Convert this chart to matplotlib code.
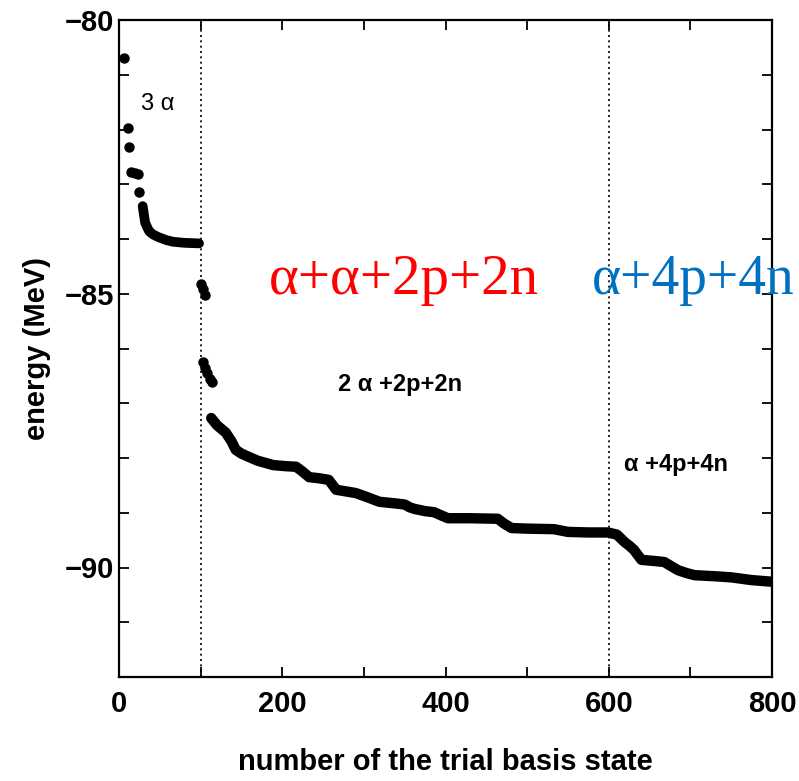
import matplotlib
matplotlib.use("Agg")
import matplotlib.pyplot as plt
from matplotlib.ticker import MultipleLocator

# ---- data ----
# isolated dots (3 alpha region and the first 2alpha+2p+2n states)
dots_x = [6, 11, 12, 15, 19, 23, 25, 101, 103, 105, 103, 105, 108, 111, 114]
dots_E = [-80.69, -81.97, -82.32, -82.78, -82.80, -82.82, -83.14,
          -84.82, -84.92, -85.02, -86.25, -86.35, -86.45, -86.55, -86.62]

# dense band of the 3 alpha states
band1_x = [29, 30, 31, 32, 35, 37, 42, 49, 58, 66, 80, 98]
band1_E = [-83.40, -83.50, -83.60, -83.70, -83.80, -83.86, -83.92, -83.97,
           -84.02, -84.05, -84.07, -84.08]

# dense band of the 2alpha+2p+2n and alpha+4p+4n states
band2_x = [113, 120, 131, 138, 143, 150, 159, 170, 189, 205, 217, 225, 233,
           245, 257, 262, 266, 278, 290, 305, 319, 339, 350, 356, 362, 375,
           386, 395, 403, 430, 464, 472, 481, 500, 533, 550, 575, 599, 610,
           619, 625, 631, 636, 640, 655, 668, 677, 685, 695, 705, 730, 750,
           775, 800]
band2_E = [-87.27, -87.40, -87.54, -87.70, -87.85, -87.92, -87.98, -88.05,
           -88.13, -88.15, -88.16, -88.25, -88.35, -88.37, -88.40, -88.50,
           -88.58, -88.61, -88.64, -88.72, -88.80, -88.83, -88.85, -88.90,
           -88.93, -88.97, -88.99, -89.05, -89.10, -89.10, -89.11, -89.20,
           -89.28, -89.29, -89.30, -89.35, -89.36, -89.36, -89.40, -89.53,
           -89.60, -89.68, -89.78, -89.86, -89.88, -89.90, -89.98, -90.05,
           -90.10, -90.14, -90.16, -90.18, -90.23, -90.26]

boundaries = [100, 600]
xticks = [0, 200, 400, 600, 800]
yticks = [-90, -85, -80]

fig = plt.figure(figsize=(7.99, 7.81), dpi=100)
ax = fig.add_axes([119 / 799, 1 - 677 / 781, (772 - 119) / 799, (677 - 20) / 781])

for b in boundaries:
    ax.axvline(b, color="k", lw=1.2, ls=(0, (1.2, 2.0)), zorder=1)

ax.plot(band1_x, band1_E, color="k", lw=7, solid_capstyle="round",
        solid_joinstyle="round", zorder=3)
ax.plot(band2_x, band2_E, color="k", lw=7.5, solid_capstyle="round",
        solid_joinstyle="round", zorder=3)
ax.plot(dots_x, dots_E, "o", color="k", ms=6.5, zorder=3)

ax.set_xlim(0, 800)
ax.set_ylim(-92, -80)
ax.set_xticks(xticks)
ax.set_yticks(yticks)
ax.xaxis.set_minor_locator(MultipleLocator(100))
ax.yaxis.set_minor_locator(MultipleLocator(1))
ax.tick_params(which="both", direction="in", top=True, right=True,
               length=7, width=1.3)
ax.tick_params(labelsize=21)
ax.tick_params(axis="x", pad=9)
for lab in ax.get_xticklabels() + ax.get_yticklabels():
    lab.set_fontweight("bold")
    lab.set_family("Liberation Sans")
for s in ax.spines.values():
    s.set_linewidth(1.6)

ax.set_xlabel("number of the trial basis state", fontsize=21,
              fontweight="bold", family="Liberation Sans", labelpad=22)
ax.set_ylabel("energy (MeV)", fontsize=21, fontweight="bold",
              family="Liberation Sans", labelpad=10)

ax.text(27, -81.64, "3 α", fontsize=17, family="Liberation Sans",
        va="baseline")
ax.text(268, -86.78, "2 α +2p+2n", fontsize=17, fontweight="bold",
        family="Liberation Sans", va="baseline")
ax.text(619, -88.24, "α +4p+4n", fontsize=17, fontweight="bold",
        family="Liberation Sans", va="baseline")

ax.text(184, -85.0, "α+α+2p+2n", fontsize=41, color="#FF0000",
        family="Liberation Serif", va="baseline", clip_on=False)
ax.text(579, -85.0, "α+4p+4n", fontsize=40, color="#0070C0",
        family="Liberation Serif", va="baseline", clip_on=False)

fig.savefig("out.png", dpi=100)
